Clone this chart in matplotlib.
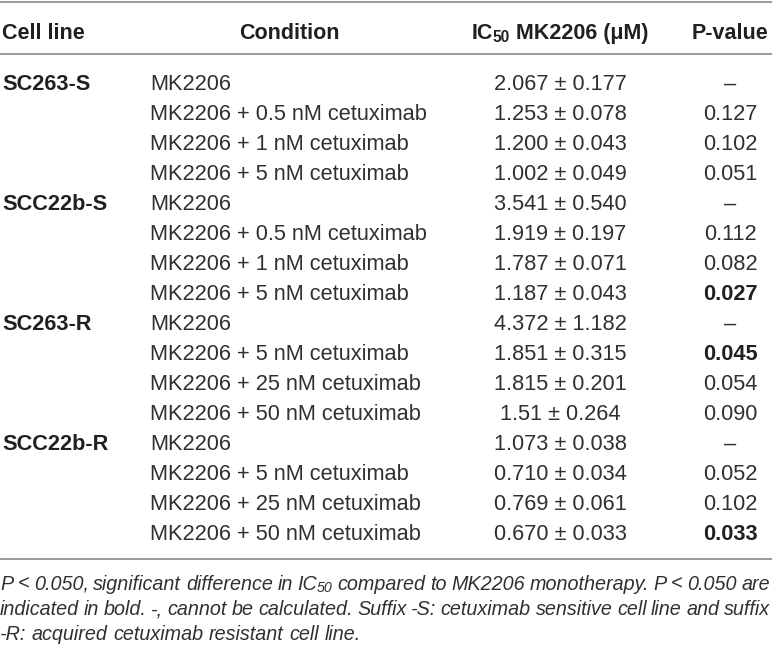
import matplotlib
matplotlib.use("Agg")
import matplotlib.pyplot as plt

# ---------------- data ----------------
cell_lines = ["SC263-S", "SCC22b-S", "SC263-R", "SCC22b-R"]
conditions = [
    ["MK2206", "MK2206 + 0.5 nM cetuximab", "MK2206 + 1 nM cetuximab", "MK2206 + 5 nM cetuximab"],
    ["MK2206", "MK2206 + 0.5 nM cetuximab", "MK2206 + 1 nM cetuximab", "MK2206 + 5 nM cetuximab"],
    ["MK2206", "MK2206 + 5 nM cetuximab", "MK2206 + 25 nM cetuximab", "MK2206 + 50 nM cetuximab"],
    ["MK2206", "MK2206 + 5 nM cetuximab", "MK2206 + 25 nM cetuximab", "MK2206 + 50 nM cetuximab"],
]
ic50_mean = [
    ["2.067", "1.253", "1.200", "1.002"],
    ["3.541", "1.919", "1.787", "1.187"],
    ["4.372", "1.851", "1.815", "1.51"],
    ["1.073", "0.710", "0.769", "0.670"],
]
ic50_sd = [
    ["0.177", "0.078", "0.043", "0.049"],
    ["0.540", "0.197", "0.071", "0.043"],
    ["1.182", "0.315", "0.201", "0.264"],
    ["0.038", "0.034", "0.061", "0.033"],
]
p_values = [
    ["–", "0.127", "0.102", "0.051"],
    ["–", "0.112", "0.082", "0.027"],
    ["–", "0.045", "0.054", "0.090"],
    ["–", "0.052", "0.102", "0.033"],
]
header_labels = ["Cell line", "Condition", "IC", "50", " MK2206 (μM)", "P-value"]
footnote_lines = [
    ["P < 0.050, significant difference in ", ("IC", "50"), " compared to MK2206 monotherapy. P < 0.050 are"],
    ["indicated in bold. -, cannot be calculated. Suffix -S: cetuximab sensitive cell line and suffix"],
    ["-R: acquired cetuximab resistant cell line."],
]
sig_level = 0.05

# ---------------- style ----------------
W, H = 772, 650
FONT = "Liberation Sans"
TXT = "#231f20"
BODY = "#303030"
RULE = "#9a9a9a"
FS_HEAD = 15.5
FS_BODY = 15.7
FS_FOOT = 14.2
YOFF = 1.5

fig = plt.figure(figsize=(W / 100, H / 100), dpi=100)
ax = fig.add_axes([0, 0, 1, 1])
ax.set_xlim(0, W)
ax.set_ylim(H, 0)
ax.axis("off")
fig.canvas.draw()
renderer = fig.canvas.get_renderer()


def width_of(t):
    return t.get_window_extent(renderer=renderer).width


def runs(x, y, parts, ha="left"):
    """parts: list of (text, fontsize, weight, style, dy)"""
    objs = []
    total = 0
    for s, fs, wt, st, dy in parts:
        t = ax.text(0, y + dy, s, fontsize=fs, fontweight=wt, fontstyle=st,
                    family=FONT, color=TXT, va="center", ha="left")
        w = width_of(t)
        objs.append((t, w))
        total += w
    if ha == "center":
        x0 = x - total / 2
    elif ha == "right":
        x0 = x - total
    else:
        x0 = x
    for t, w in objs:
        t.set_x(x0)
        x0 += w
    return total


# rules
for yy in (1.5, 54, 559):
    ax.plot([0, W], [yy, yy], color=RULE, lw=1.4, solid_capstyle="butt")

# header
HY = 32 + YOFF
x_cell, x_cond, x_ic, x_p = 2, 150, 560, 730
ax.text(x_cell, HY, header_labels[0], fontsize=FS_HEAD, fontweight="bold", family=FONT,
        color=TXT, va="center", ha="left")
ax.text(289, HY, header_labels[1], fontsize=FS_HEAD, fontweight="bold", family=FONT,
        color=TXT, va="center", ha="center")
runs(x_ic, HY, [(header_labels[2], FS_HEAD, "bold", "normal", 0),
                (header_labels[3], FS_HEAD * 0.72, "bold", "normal", 4),
                (header_labels[4], FS_HEAD, "bold", "normal", 0)], ha="center")
ax.text(x_p, HY, header_labels[5], fontsize=FS_HEAD, fontweight="bold", family=FONT,
        color=TXT, va="center", ha="center")

# body
y0, dy = 83 + YOFF, 30
r = 0
for gi, cl in enumerate(cell_lines):
    for ri in range(len(conditions[gi])):
        y = y0 + r * dy
        if ri == 0:
            ax.text(x_cell, y, cl, fontsize=FS_BODY, fontweight="bold", family=FONT,
                    color=TXT, va="center", ha="left")
        ax.text(x_cond, y, conditions[gi][ri], fontsize=FS_BODY, family=FONT,
                color=BODY, va="center", ha="left")
        ax.text(x_ic, y, f"{ic50_mean[gi][ri]} ± {ic50_sd[gi][ri]}", fontsize=FS_BODY,
                family=FONT, color=BODY, va="center", ha="center")
        pv = p_values[gi][ri]
        bold = False
        try:
            bold = float(pv) < sig_level
        except ValueError:
            pass
        ax.text(x_p, y, pv, fontsize=FS_BODY, family=FONT, va="center", ha="center",
                color=TXT if bold else BODY, fontweight="bold" if bold else "normal")
        r += 1

# footnote (justified)
fy = [583 + YOFF, 608 + YOFF, 633 + YOFF]
for li, line in enumerate(footnote_lines):
    tokens = []
    for seg in line:
        if isinstance(seg, tuple):
            tokens.append(seg)
        else:
            tokens.extend([w for w in seg.split(" ") if w != ""])
    objs = []
    total = 0
    for tk in tokens:
        if isinstance(tk, tuple):
            t1 = ax.text(0, fy[li], tk[0], fontsize=FS_FOOT, fontstyle="italic", family=FONT,
                         color=BODY, va="center")
            t2 = ax.text(0, fy[li] + 3.5, tk[1], fontsize=FS_FOOT * 0.72, fontstyle="italic",
                         family=FONT, color=BODY, va="center")
            w1, w2 = width_of(t1), width_of(t2)
            objs.append(([(t1, 0), (t2, w1)], w1 + w2))
            total += w1 + w2
        else:
            t = ax.text(0, fy[li], tk, fontsize=FS_FOOT, fontstyle="italic", family=FONT,
                        color=BODY, va="center")
            w = width_of(t)
            objs.append(([(t, 0)], w))
            total += w
    n = len(objs)
    if li < len(footnote_lines) - 1 and n > 1:
        gap = (W - 2 - total) / (n - 1)
    else:
        sp = ax.text(0, 0, "a a", fontsize=FS_FOOT, fontstyle="italic", family=FONT)
        sp2 = ax.text(0, 0, "aa", fontsize=FS_FOOT, fontstyle="italic", family=FONT)
        gap = width_of(sp) - width_of(sp2)
        sp.remove(); sp2.remove()
    x = 0
    for parts, w in objs:
        for t, off in parts:
            t.set_x(x + off)
        x += w + gap

fig.savefig("out.png", dpi=100)
